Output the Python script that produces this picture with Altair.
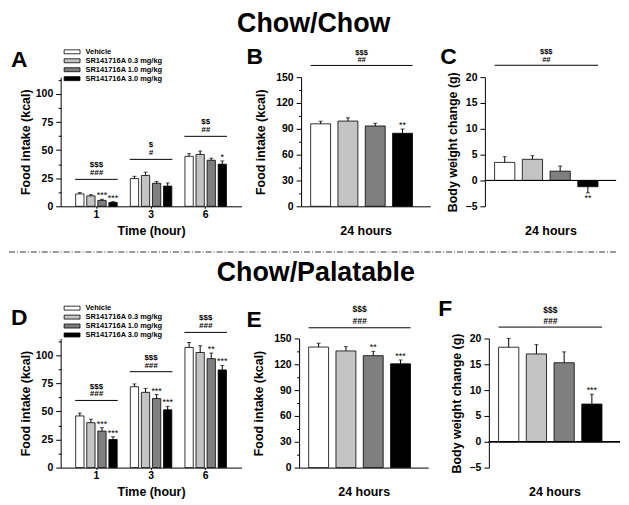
import altair as alt
import pandas as pd

FONT = "Liberation Sans"

doses = ["Vehicle", "SR141716A 0.3 mg/kg", "SR141716A 1.0 mg/kg", "SR141716A 3.0 mg/kg"]
dose_colors = ["#ffffff", "#c4c4c4", "#7f7f7f", "#000000"]
hours = ["1", "3", "6"]

# Panel A (Chow/Chow, cumulative intake)
a_mean = [[11.0, 9.3, 5.3, 3.5], [24.7, 27.5, 20.5, 18.0], [44.5, 46.2, 41.0, 37.5]]
a_sem = [[1.2, 1.1, 1.0, 0.6], [2.0, 3.0, 1.5, 2.8], [2.4, 3.0, 1.8, 2.9]]
a_stars = [["", "", "***", "***"], ["", "", "", ""], ["", "", "", "*"]]
a_sig_y = [24.0, 41.8, 62.3]
a_sig_top = ["$$$", "$", "$$"]
a_sig_bot = ["###", "#", "##"]

# Panel D (Chow/Palatable, cumulative intake)
d_mean = [[46.0, 40.0, 32.5, 25.0], [72.0, 67.0, 61.5, 51.5], [107.0, 102.5, 97.0, 87.0]]
d_sem = [[2.5, 3.0, 3.0, 2.5], [2.5, 3.5, 3.5, 3.0], [4.5, 6.0, 5.0, 4.0]]
d_stars = [["", "", "***", "***"], ["", "", "***", "***"], ["", "", "**", "***"]]
d_sig_y = [59.8, 85.4, 120.4]
d_sig_top = ["$$$", "$$$", "$$$"]
d_sig_bot = ["###", "###", "###"]

# Panel B (24 h intake, Chow/Chow)
b_mean = [95.8, 99.0, 93.3, 84.8]
b_sem = [3.0, 3.8, 3.2, 5.0]
b_stars = ["", "", "", "**"]
b_sig = [163.6, "$$$", "##"]

# Panel C (body weight change, Chow/Chow)
c_mean = [3.5, 4.1, 1.8, -1.2]
c_sem = [1.1, 0.7, 1.0, 1.2]
c_stars = ["", "", "", "**"]
c_sig = [22.3, "$$$", "##"]

# Panel E (24 h intake, Chow/Palatable)
e_mean = [140.0, 135.5, 130.0, 120.5]
e_sem = [4.5, 5.0, 5.0, 4.5]
e_stars = ["", "", "**", "***"]
e_sig = [162.4, "$$$", "###"]

# Panel F (body weight change, Chow/Palatable)
f_mean = [18.3, 17.0, 15.3, 7.3]
f_sem = [1.7, 1.8, 2.1, 1.9]
f_stars = ["", "", "", "***"]
f_sig = [22.2, "$$$", "###"]


def y_axis(title, values, major, tpad):
    test = f"datum.value % {major} === 0"
    return alt.Axis(
        title=title, values=values, grid=False,
        labelExpr=f"{test} ? format(datum.value, 'd') : ''",
        tickSize={"condition": {"test": test, "value": 5}, "value": 2.5},
        domainColor="black", tickColor="black", labelColor="black", titleColor="black",
        labelFont=FONT, labelFontSize=10.5, labelFontWeight="bold", labelPadding=3,
        titleFont=FONT, titleFontSize=12.5, titleFontWeight="bold", titlePadding=tpad,
    )


def panel_letter(letter, pos):
    # panel label, placed relative to the panel's plot area
    return alt.Chart(pd.DataFrame({"letter": [letter]})).mark_text(
        font=FONT, fontSize=23, fontWeight="bold", color="black", align="left", baseline="top"
    ).encode(x=alt.value(pos[0]), y=alt.value(pos[1]), text="letter:N")


def legend_def(ly):
    return alt.Legend(
        title=None, orient="none", legendX=7, legendY=ly,
        symbolType="M-2,-0.5H2V0.5H-2Z", symbolSize=64,
        symbolStrokeColor="black", symbolStrokeWidth=0.8,
        labelFont=FONT, labelFontSize=7.5, labelFontWeight="bold", labelColor="black",
        labelOffset=9, rowPadding=0, padding=0, labelLimit=300,
    )


def grouped_panel(mean, sem, stars, sig_y, sig_top, sig_bot, letter, lpos, ly):
    rec = []
    for i, h in enumerate(hours):
        for j, d in enumerate(doses):
            rec.append({"hour": h, "dose": d, "mean": mean[i][j],
                        "err": mean[i][j] + sem[i][j], "star": stars[i][j]})
    df = pd.DataFrame(rec)
    sig = pd.DataFrame({"hour": hours, "y": sig_y, "top": sig_top, "bot": sig_bot})

    xaxis = alt.Axis(title="Time (hour)", labelAngle=0, tickSize=2, domainColor="black",
                     tickColor="black", labelColor="black", titleColor="black",
                     labelFont=FONT, labelFontSize=10.5, labelFontWeight="bold", labelPadding=1,
                     titleFont=FONT, titleFontSize=12.5, titleFontWeight="bold", titlePadding=5)
    xs = alt.Scale(domain=hours, paddingInner=0.22, paddingOuter=0.265)
    xo = alt.XOffset("dose:N", scale=alt.Scale(domain=doses, paddingInner=0.25, paddingOuter=0.05))
    ys = alt.Scale(domain=[0, 115], nice=False, zero=True)
    yax = y_axis("Food intake (kcal)", [v * 12.5 for v in range(10)], 25, 3)

    def X():
        return alt.X("hour:N", scale=xs, axis=xaxis)

    def Y(f):
        return alt.Y(f, scale=ys, axis=yax)

    bars = alt.Chart(df).mark_bar(stroke="black", strokeWidth=0.8).encode(
        x=X(), xOffset=xo, y=Y("mean:Q"),
        fill=alt.Fill("dose:N", scale=alt.Scale(domain=doses, range=dose_colors), legend=legend_def(ly)),
    )
    errs = alt.Chart(df).mark_rule(color="black", strokeWidth=1).encode(
        x=X(), xOffset=xo, y=Y("mean:Q"), y2="err:Q")
    caps = alt.Chart(df).mark_tick(color="black", thickness=1, size=4).encode(
        x=X(), xOffset=xo, y=Y("err:Q"))
    stxt = alt.Chart(df).mark_text(font=FONT, fontSize=9, baseline="alphabetic", dy=-1, color="black").encode(
        x=X(), xOffset=xo, y=Y("err:Q"), text="star:N")
    line = alt.Chart(sig).mark_rule(color="black", strokeWidth=1).encode(
        x=alt.X("hour:N", scale=xs, axis=xaxis, bandPosition=0),
        x2=alt.X2("hour", bandPosition=1), y=Y("y:Q"))
    ttop = alt.Chart(sig).mark_text(font=FONT, fontSize=8, fontWeight="bold", baseline="middle", dy=-14, color="black").encode(
        x=X(), y=Y("y:Q"), text="top:N")
    tbot = alt.Chart(sig).mark_text(font=FONT, fontSize=8, fontWeight="bold", fontStyle="italic", baseline="middle", dy=-6, color="black").encode(
        x=X(), y=Y("y:Q"), text="bot:N")
    return alt.layer(bars, errs, caps, stxt, line, ttop, tbot, panel_letter(letter, lpos)).properties(
        width=182, height=130)


def single_panel(mean, sem, stars, sig, letter, lpos, ytitle, ydomain, values, major, zero_line,
                 sig_dy, sig_fs, width, tpad):
    df = pd.DataFrame({
        "dose": doses, "mean": mean,
        "err": [m + s if m >= 0 else m - s for m, s in zip(mean, sem)],
        "star": [st if m >= 0 else "" for st, m in zip(stars, mean)],
        "nstar": [st if m < 0 else "" for st, m in zip(stars, mean)],
    })
    sdf = pd.DataFrame({"x0": [doses[0]], "x1": [doses[-1]], "xm": [doses[1]],
                        "y": [sig[0]], "top": [sig[1]], "bot": [sig[2]]})
    pin = 0.27
    xs = alt.Scale(domain=doses, paddingInner=pin, paddingOuter=0.5, align=0.35)
    xaxis = alt.Axis(title="24 hours", labels=False, ticks=False, domain=not zero_line,
                     domainColor="black", titleColor="black", titleFont=FONT, titleFontSize=12.5,
                     titleFontWeight="bold", titlePadding=18)
    ys = alt.Scale(domain=ydomain, nice=False, zero=False)
    yax = y_axis(ytitle, values, major, tpad)
    step = width / (4 - pin + 1.0)
    gap_half = step * pin / 2

    def X(f="dose:N", **kw):
        return alt.X(f, scale=xs, axis=xaxis, **kw)

    def Y(f):
        return alt.Y(f, scale=ys, axis=yax)

    layers = []
    bars = alt.Chart(df).mark_bar(stroke="black", strokeWidth=0.8).encode(
        x=X(), y=Y("mean:Q"),
        fill=alt.Fill("dose:N", scale=alt.Scale(domain=doses, range=dose_colors), legend=None))
    layers.append(bars)
    if zero_line:
        layers.append(alt.Chart(df).mark_rule(color="black", strokeWidth=1).encode(y=alt.datum(0, scale=ys, axis=yax)))
    layers.append(alt.Chart(df).mark_rule(color="black", strokeWidth=1).encode(x=X(), y=Y("mean:Q"), y2="err:Q"))
    layers.append(alt.Chart(df).mark_tick(color="black", thickness=1, size=4).encode(x=X(), y=Y("err:Q")))
    layers.append(alt.Chart(df).mark_text(font=FONT, fontSize=9, baseline="alphabetic", dy=-1, color="black").encode(
        x=X(), y=Y("err:Q"), text="star:N"))
    layers.append(alt.Chart(df).mark_text(font=FONT, fontSize=9, baseline="top", dy=1, color="black").encode(
        x=X(), y=Y("err:Q"), text="nstar:N"))
    layers.append(alt.Chart(sdf).mark_rule(color="black", strokeWidth=1).encode(
        x=X("x0:N", bandPosition=0), x2=alt.X2("x1", bandPosition=1), y=Y("y:Q")))
    layers.append(alt.Chart(sdf).mark_text(font=FONT, fontSize=sig_fs, fontWeight="bold", baseline="middle",
                                           dy=sig_dy[1], dx=gap_half, color="black").encode(
        x=X("xm:N", bandPosition=1), y=Y("y:Q"), text="top:N"))
    layers.append(alt.Chart(sdf).mark_text(font=FONT, fontSize=sig_fs, fontWeight="bold", fontStyle="italic", baseline="middle",
                                           dy=sig_dy[0], dx=gap_half, color="black").encode(
        x=X("xm:N", bandPosition=1), y=Y("y:Q"), text="bot:N"))
    layers.append(panel_letter(letter, lpos))
    return alt.layer(*layers).properties(width=width, height=130)


food_vals = [v * 15 for v in range(11)]
bw_vals = [-5, 0, 5, 10, 15, 20]

A = grouped_panel(a_mean, a_sem, a_stars, a_sig_y, a_sig_top, a_sig_bot, "A", (-50, -28.5), -30)
B = single_panel(b_mean, b_sem, b_stars, b_sig, "B", (-55, -31.5), "Food intake (kcal)", [0, 150], food_vals, 30,
                 False, (-5.5, -13), 7.5, 130, 8)
C = single_panel(c_mean, c_sem, c_stars, c_sig, "C", (-45, -31), "Body weight change (g)", [-5, 20], bw_vals, 5,
                 True, (-5.5, -13), 7.5, 132, 6)
D = grouped_panel(d_mean, d_sem, d_stars, d_sig_y, d_sig_top, d_sig_bot, "D", (-50, -31.7), -35)
E = single_panel(e_mean, e_sem, e_stars, e_sig, "E", (-53, -30), "Food intake (kcal)", [0, 150], food_vals, 30,
                 False, (-7, -19), 8.5, 130, 8)
F = single_panel(f_mean, f_sem, f_stars, f_sig, "F", (-51, -40.7), "Body weight change (g)", [-5, 20], bw_vals, 5,
                 True, (-6.5, -17.5), 8.5, 132, 6)

row1 = alt.hconcat(
    A, alt.hconcat(B, C, spacing=10).resolve_scale(fill="independent"), spacing=5,
    title=alt.Title("Chow/Chow", font=FONT, fontSize=27, fontWeight="bold", color="black",
                    anchor="middle", offset=8),
).resolve_scale(fill="independent")
row2 = alt.hconcat(
    D, alt.hconcat(E, F, spacing=10).resolve_scale(fill="independent"), spacing=5,
    title=alt.Title("Chow/Palatable", font=FONT, fontSize=27, fontWeight="bold", color="black",
                    anchor="middle", offset=11),
).resolve_scale(fill="independent")

sep = alt.Chart(pd.DataFrame({"s": [0]})).mark_rule(
    color="#333333", strokeWidth=1, strokeDash=[6, 2, 1, 2]
).encode(x=alt.value(-52), x2=alt.value(560), y=alt.value(9)).properties(width=500, height=10)

chart = alt.vconcat(row1, sep, row2, spacing=6).resolve_scale(fill="independent").properties(
    padding={"left": 0, "top": 0, "right": 0, "bottom": 0}
).configure(font=FONT, background="white").configure_view(stroke=None)

chart.save("out.html", embed_options={"renderer": "svg", "actions": False})
